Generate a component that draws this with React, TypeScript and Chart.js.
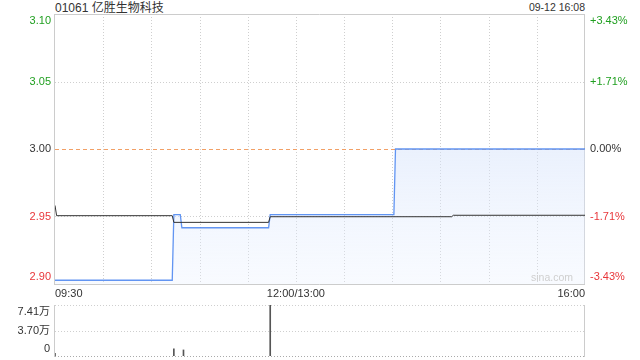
import React, { useEffect, useRef } from 'react';
import { Chart, registerables } from 'chart.js';

Chart.register(...registerables);

const FONT = '"Liberation Sans", Arial, "Noto Sans CJK SC", sans-serif';
Chart.defaults.font.family = FONT;
Chart.defaults.font.size = 11;

// ---- text ----
const TITLE = '01061 亿胜生物科技';
const TIME_STAMP = '09-12 16:08';
const WATERMARK = 'sina.com';

// ---- price axis ----
const PREV_CLOSE = 3.0;
const PRICE_TICK_STEP = 0.05143;
const LEFT_TICK_LABELS = ['2.90', '2.95', '3.00', '3.05', '3.10'];
const RIGHT_TICK_LABELS = ['-3.43%', '-1.71%', '0.00%', '+1.71%', '+3.43%'];

// ---- time axis (trading minutes from 09:30, lunch break removed) ----
const SESSION_MINUTES = 330;
const GRID_STEP_MINUTES = 30;
const X_LABEL_MINUTES = [0, 150, 330];
const X_LABELS = ['09:30', '12:00/13:00', '16:00'];

// ---- series ----
const PRICE_MINUTES = [0, 73, 74, 78, 79, 133, 134, 211, 212, 330];
const PRICE_VALUES = [2.9, 2.9, 2.95, 2.95, 2.94, 2.94, 2.95, 2.95, 3.0, 3.0];

const AVG_MINUTES = [0, 1, 73, 74, 133, 134, 247, 248, 330];
const AVG_VALUES = [2.957, 2.9492, 2.9492, 2.9441, 2.9441, 2.9484, 2.9484, 2.9495, 2.9495];

const VOLUME_MINUTES = [0, 74, 80, 134];
const VOLUME_VALUES = [4000, 10500, 8800, 74100];
const VOLUME_MAX = 74100;
const VOLUME_TICK_LABELS = ['0', '3.70万', '7.41万'];

// ---- colours ----
const GREEN = '#1f9f1f';
const RED = '#e8363a';
const DARK = '#333333';

const priceColor = (v: number) =>
  v > PREV_CLOSE + 1e-6 ? GREEN : v < PREV_CLOSE - 1e-6 ? RED : DARK;

// label for edge ticks pushed inward with an empty extra line
const edgeLabel = (text: string, index: number, count: number): string | string[] => {
  if (index === 0) return [text, ''];
  if (index === count - 1) return ['', text];
  return text;
};

const gridPlugin = {
  id: 'sinaGrid',
  beforeDatasetsDraw(chart: any, _args: any, opts: any) {
    const { ctx, chartArea: a } = chart;
    ctx.save();
    ctx.lineWidth = 1;
    ctx.setLineDash([1, 2]);
    ctx.strokeStyle = '#cfcfcf';
    if (opts.vertical) {
      const xs = chart.scales.x;
      xs.ticks.forEach((t: any, i: number, arr: any[]) => {
        if (i === 0 || i === arr.length - 1) return;
        const px = Math.round(xs.getPixelForValue(t.value)) + 0.5;
        ctx.beginPath();
        ctx.moveTo(px, a.top);
        ctx.lineTo(px, a.bottom);
        ctx.stroke();
      });
    }
    const ys = chart.scales.y;
    ys.ticks.forEach((t: any, i: number, arr: any[]) => {
      const isEdge = i === 0 || i === arr.length - 1;
      if (opts.skipEdges && isEdge) return;
      if (opts.refValue != null && Math.abs(t.value - opts.refValue) < 1e-6) return;
      const py = Math.round(ys.getPixelForValue(t.value)) + 0.5;
      ctx.strokeStyle = opts.bottomColor && i === 0 ? opts.bottomColor : '#cfcfcf';
      ctx.beginPath();
      ctx.moveTo(a.left, py);
      ctx.lineTo(a.right, py);
      ctx.stroke();
    });
    ctx.setLineDash([]);
    ctx.strokeStyle = '#cccccc';
    ctx.beginPath();
    ctx.moveTo(a.left - 0.5, a.top);
    ctx.lineTo(a.left - 0.5, a.bottom + 1);
    ctx.moveTo(a.right - 0.5, a.top);
    ctx.lineTo(a.right - 0.5, a.bottom + 1);
    if (opts.box) {
      ctx.moveTo(a.left - 1, a.top + 0.5);
      ctx.lineTo(a.right, a.top + 0.5);
      ctx.moveTo(a.left - 1, a.bottom + 0.5);
      ctx.lineTo(a.right, a.bottom + 0.5);
    }
    ctx.stroke();
    if (opts.refValue != null) {
      const py = Math.round(ys.getPixelForValue(opts.refValue)) + 0.5;
      ctx.strokeStyle = '#f2a066';
      ctx.setLineDash([4, 3]);
      ctx.beginPath();
      ctx.moveTo(a.left, py);
      ctx.lineTo(a.right, py);
      ctx.stroke();
    }
    ctx.restore();
  },
};

const priceTicks = () =>
  LEFT_TICK_LABELS.map((_, i) => ({ value: PREV_CLOSE + (i - 2) * PRICE_TICK_STEP }));

function mainConfig(): any {
  return {
    type: 'line',
    data: {
      datasets: [
        {
          label: 'avg',
          data: AVG_MINUTES.map((m, i) => ({ x: m, y: AVG_VALUES[i] })),
          borderColor: '#333333',
          borderWidth: 1,
          pointRadius: 0,
          fill: false,
          order: 0,
        },
        {
          label: 'price',
          data: PRICE_MINUTES.map((m, i) => ({ x: m, y: PRICE_VALUES[i] })),
          borderColor: 'rgba(70,130,240,0.85)',
          borderWidth: 1.3,
          pointRadius: 0,
          fill: 'start',
          order: 1,
          backgroundColor: (ctx: any) => {
            const { chart } = ctx;
            const area = chart.chartArea;
            if (!area) return 'rgba(220,232,250,0.4)';
            const g = chart.ctx.createLinearGradient(0, area.top, 0, area.bottom);
            g.addColorStop(0, 'rgba(196,214,247,0.7)');
            g.addColorStop(1, 'rgba(232,240,255,0.3)');
            return g;
          },
        },
      ],
    },
    options: {
      responsive: false,
      animation: false,
      events: [],
      layout: { padding: { top: 14, left: 0, right: 0, bottom: 0 } },
      plugins: {
        legend: { display: false },
        tooltip: { enabled: false },
        sinaGrid: { vertical: true, skipEdges: true, refValue: PREV_CLOSE, box: true },
      },
      scales: {
        x: {
          type: 'linear',
          min: 0,
          max: SESSION_MINUTES,
          grid: { display: false, drawTicks: false },
          border: { display: false },
          afterBuildTicks: (s: any) => {
            const t = [];
            for (let m = 0; m <= SESSION_MINUTES; m += GRID_STEP_MINUTES) t.push({ value: m });
            s.ticks = t;
          },
          afterFit: (s: any) => {
            s.height = 16;
            s.paddingLeft = 0;
            s.paddingRight = 0;
          },
          ticks: {
            autoSkip: false,
            maxRotation: 0,
            minRotation: 0,
            align: 'inner',
            padding: 3,
            color: DARK,
            callback: (v: number) => {
              const i = X_LABEL_MINUTES.indexOf(v);
              return i >= 0 ? X_LABELS[i] : '';
            },
          },
        },
        y: {
          position: 'left',
          min: PREV_CLOSE - 2 * PRICE_TICK_STEP,
          max: PREV_CLOSE + 2 * PRICE_TICK_STEP,
          grid: { display: false, drawTicks: false },
          border: { display: false },
          afterBuildTicks: (s: any) => {
            s.ticks = priceTicks();
          },
          afterFit: (s: any) => {
            s.width = 55;
            s.paddingTop = 0;
            s.paddingBottom = 0;
          },
          ticks: {
            autoSkip: false,
            padding: 4,
            color: (c: any) => priceColor(c.tick.value),
            callback: (_v: number, i: number, arr: any[]) => edgeLabel(LEFT_TICK_LABELS[i], i, arr.length),
          },
        },
        y2: {
          position: 'right',
          min: PREV_CLOSE - 2 * PRICE_TICK_STEP,
          max: PREV_CLOSE + 2 * PRICE_TICK_STEP,
          grid: { display: false, drawTicks: false },
          border: { display: false },
          afterBuildTicks: (s: any) => {
            s.ticks = priceTicks();
          },
          afterFit: (s: any) => {
            s.width = 55;
            s.paddingTop = 0;
            s.paddingBottom = 0;
          },
          ticks: {
            autoSkip: false,
            padding: 5,
            color: (c: any) => priceColor(c.tick.value),
            callback: (_v: number, i: number, arr: any[]) => edgeLabel(RIGHT_TICK_LABELS[i], i, arr.length),
          },
        },
      },
    },
    plugins: [gridPlugin],
  };
}

function volumeConfig(): any {
  return {
    type: 'bar',
    data: {
      datasets: [
        {
          label: 'volume',
          data: VOLUME_MINUTES.map((m, i) => ({ x: m, y: VOLUME_VALUES[i] })),
          backgroundColor: '#555555',
          barThickness: 1,
        },
      ],
    },
    options: {
      responsive: false,
      animation: false,
      events: [],
      layout: { padding: { top: 10, left: 0, right: 55, bottom: 4 } },
      plugins: {
        legend: { display: false },
        tooltip: { enabled: false },
        sinaGrid: { vertical: false, skipEdges: false, box: false, bottomColor: '#aaaaaa' },
      },
      scales: {
        x: {
          type: 'linear',
          min: 0,
          max: SESSION_MINUTES,
          offset: false,
          display: false,
        },
        y: {
          position: 'left',
          min: 0,
          max: VOLUME_MAX,
          grid: { display: false, drawTicks: false },
          border: { display: false },
          afterBuildTicks: (s: any) => {
            s.ticks = VOLUME_TICK_LABELS.map((_, i) => ({ value: (VOLUME_MAX * i) / (VOLUME_TICK_LABELS.length - 1) }));
          },
          afterFit: (s: any) => {
            s.width = 55;
            s.paddingTop = 0;
            s.paddingBottom = 0;
          },
          ticks: {
            autoSkip: false,
            padding: 5,
            color: DARK,
            callback: (_v: number, i: number, arr: any[]) => edgeLabel(VOLUME_TICK_LABELS[i], i, arr.length),
          },
        },
      },
    },
    plugins: [gridPlugin],
  };
}

export default function App() {
  const mainRef = useRef<HTMLCanvasElement>(null);
  const volRef = useRef<HTMLCanvasElement>(null);

  useEffect(() => {
    const main = new Chart(mainRef.current as HTMLCanvasElement, mainConfig());
    const vol = new Chart(volRef.current as HTMLCanvasElement, volumeConfig());
    return () => {
      main.destroy();
      vol.destroy();
    };
  }, []);

  return (
    <div
      style={{
        position: 'fixed',
        left: 0,
        top: 0,
        width: 640,
        height: 360,
        background: '#ffffff',
        overflow: 'hidden',
        fontFamily: FONT,
      }}
    >
      <div
        style={{
          position: 'absolute',
          left: 55,
          top: 1,
          fontSize: 12,
          lineHeight: '14px',
          color: DARK,
          whiteSpace: 'nowrap',
        }}
      >
        {TITLE}
      </div>
      <div
        style={{
          position: 'absolute',
          right: 55,
          top: 1,
          fontSize: 10.5,
          lineHeight: '12px',
          color: DARK,
          whiteSpace: 'nowrap',
        }}
      >
        {TIME_STAMP}
      </div>
      <canvas
        ref={mainRef}
        width={640}
        height={300}
        style={{ position: 'absolute', left: 0, top: 0 }}
      />
      <div
        style={{
          position: 'absolute',
          right: 67,
          top: 271,
          fontSize: 10.5,
          lineHeight: '12px',
          color: '#cfcfcf',
          whiteSpace: 'nowrap',
        }}
      >
        {WATERMARK}
      </div>
      <canvas
        ref={volRef}
        width={640}
        height={65}
        style={{ position: 'absolute', left: 0, top: 295 }}
      />
    </div>
  );
}
